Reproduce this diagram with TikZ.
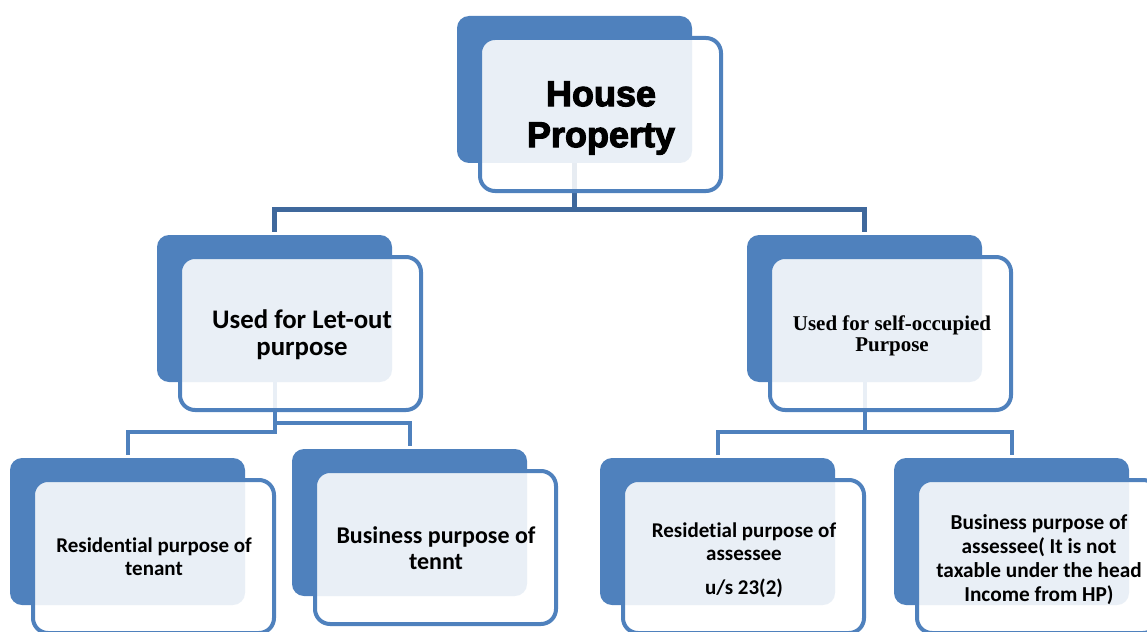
\documentclass[tikz,border=0pt]{standalone}
\usepackage{fontspec}
\setmainfont{Carlito}[Ligatures = NoCommon]
\newfontfamily\heavyfont{Liberation Sans}[BoldFeatures={FakeBold=3}]
\newfontfamily\serifbold{Liberation Serif}
\usetikzlibrary{backgrounds}

\definecolor{accent}{RGB}{79,129,189}
\definecolor{accentdark}{RGB}{63,104,156}

\begin{document}
\begin{tikzpicture}[x = 1pt, y = -1pt,
	back/.style = {fill = accent, rounded corners = 12pt, minimum width = 235pt, minimum height = 147pt, inner sep = 0pt, outer sep = 0pt},
	front/.style = {draw = accent, line width = 4pt, fill = white, fill opacity = 0.88, rounded corners = 15pt, minimum width = 241pt, minimum height = 153pt, inner sep = 0pt, outer sep = 0pt},
	label/.style = {align = center, inner sep = 0pt},
	link/.style = {draw = accent, line width = 4pt},
	trunk/.style = {draw = accentdark, line width = 5pt}]

	% Page frame
	
	\useasboundingbox (0, 0) rectangle (1147, 631);
	\clip (0, 0) rectangle (1147, 631);
	
	% Boxes: dark back plate, then a see-through white card over it
	
	\foreach \name/\x/\y in {hp/457/16, let/157/235, self/747/235, tres/10/458, tbus/292/449, ores/600/458, obus/894/458}
	{
		\node (\name-b) [back] at (\x + 117.5, \y + 73.5) {};
		\node (\name) [front] at (\x + 143.5, \y + 98.5) {};
	}
	
	% Labels
	
	\node (hp-t) [label, font = \heavyfont\bfseries\fontsize{36}{41}\selectfont] at (601, 118) {House\\Property};
	\node (let-t) [label, font = \bfseries\fontsize{26.8}{27}\selectfont] at (302, 335) {Used for Let-out\\purpose};
	\node (self-t) [label, font = \serifbold\bfseries\fontsize{21}{21}\selectfont] at (892, 336) {Used for self-occupied\\Purpose};
	\node (tres-t) [label, font = \bfseries\fontsize{21}{23}\selectfont] at (154, 557) {Residential purpose of\\tenant};
	\node (tbus-t) [label, font = \bfseries\fontsize{24}{26}\selectfont] at (436, 548) {Business purpose of\\tennt};
	\node (ores-t) [label, font = \bfseries\fontsize{21}{23}\selectfont] at (744, 560) {Residetial purpose of\\assessee\\[11pt]u/s 23(2)};
	\node (obus-t) [label, font = \bfseries\fontsize{21.3}{24}\selectfont] at (1039, 560) {Business purpose of\\assessee( It is not\\taxable under the head\\Income from HP)};
	
	% Connectors, behind the cards
	
	\begin{scope}[on background layer]
		\draw [trunk] (hp-b.south) -- ++(0, 46) coordinate (hp-j) -| ([yshift = 3pt] let-b.north);
		\draw [trunk] (hp-j) -| ([yshift = 3pt] self-b.north);
		
		\draw [link] (let-b.south) -- ++(0, 41) coordinate (let-j) -| ([yshift = 3pt] tbus-b.north);
		\draw [link] (let-j) -- ++(0, 9) -| ([yshift = 3pt] tres-b.north);
		
		\draw [link] (self-b.south) -- ++(0, 50) coordinate (self-j) -| ([yshift = 3pt] ores-b.north);
		\draw [link] (self-j) -| ([yshift = 3pt] obus-b.north);
	\end{scope}

\end{tikzpicture}
\end{document}
